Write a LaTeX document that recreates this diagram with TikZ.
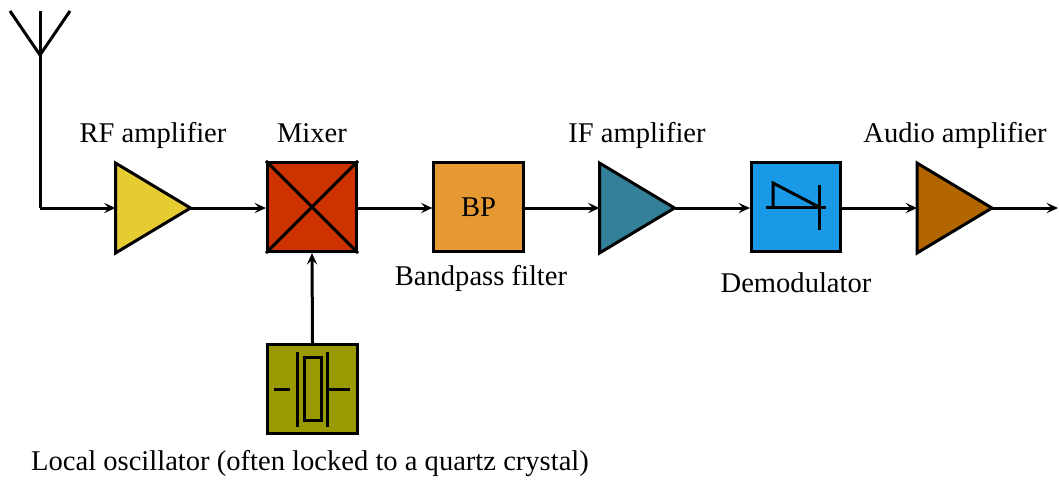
\documentclass[tikz,border=0pt]{standalone}
\usepackage{fontspec}
\setmainfont{Liberation Serif}
\newfontfamily\lblfont{Liberation Serif}
\usetikzlibrary{arrows.meta}
\definecolor{rfc}{RGB}{230,204,51}
\definecolor{mixc}{RGB}{204,51,0}
\definecolor{bpc}{RGB}{230,153,51}
\definecolor{ifc}{RGB}{51,128,153}
\definecolor{demc}{RGB}{26,153,230}
\definecolor{audc}{RGB}{179,102,0}
\definecolor{oscc}{RGB}{153,153,0}
\tikzset{
  wire/.style={line width=1.05pt},
  sig/.style={wire,-{Stealth[length=4pt,width=3.6pt,inset=1.6pt]}},
  blockbox/.style={draw,line width=1.05pt,minimum width=31.2pt,minimum height=31.2pt,inner sep=0pt,font=\lblfont\fontsize{10}{12}\selectfont},
  ampbox/.style={minimum width=26.25pt,minimum height=31.5pt,inner sep=0pt,outer sep=0pt},
  amp/.style={draw,line width=1.05pt},
  lbl/.style={anchor=base,inner sep=0pt,font=\lblfont\fontsize{10}{12}\selectfont},
}
\begin{document}
\begin{tikzpicture}[x=0.35pt,y=-0.35pt]
\useasboundingbox (0,0) rectangle (1059,479);
% antenna
\coordinate (anttop) at (40,11);
\coordinate (antjunc) at (40,55);
\coordinate (antl) at (10,11);
\coordinate (antr) at (70,11);
\coordinate (antbase) at (40,208);
\draw[wire] (antl) -- (antjunc) -- (antr);
\draw[wire] (anttop) -- (antbase);
% blocks
\node[ampbox] (rf) at (153,208) {};
\filldraw[amp,fill=rfc] (rf.north west) -- (rf.east) -- (rf.south west) -- cycle;
\node[blockbox,fill=mixc] (mix) at (312,207) {};
\draw[wire] (mix.north west) -- (mix.south east);
\draw[wire] (mix.south west) -- (mix.north east);
\node[blockbox,fill=bpc] (bp) at (478.5,207) {BP};
\node[ampbox] (if) at (637,208) {};
\filldraw[amp,fill=ifc] (if.north west) -- (if.east) -- (if.south west) -- cycle;
\node[blockbox,fill=demc] (dem) at (796,207) {};
\node[ampbox] (aud) at (954.5,208) {};
\filldraw[amp,fill=audc] (aud.north west) -- (aud.east) -- (aud.south west) -- cycle;
\node[blockbox,fill=oscc] (osc) at (312.5,389) {};
\coordinate (out) at (1058,208);
% demodulator symbol
\draw[wire] (766,207) -- (826,207);
\draw[wire] (819,185) -- (819,230);
\draw[wire] (773,207) -- (773,183) -- (819,207);
% crystal symbol
\draw[wire] (274,389) -- (290,389);
\draw[wire] (297,352) -- (297,427);
\draw[wire] (304,357) rectangle (321,420);
\draw[wire] (327,352) -- (327,427);
\draw[wire] (327,389) -- (350,389);
% connectors
\draw[sig] (antbase) -- (rf.west);
\draw[sig] (rf.east) -- (mix.west |- rf.east);
\draw[sig] (mix.east |- rf.east) -- (bp.west |- rf.east);
\draw[sig] (bp.east |- rf.east) -- (if.west);
\draw[sig] (if.east) -- (dem.west |- if.east);
\draw[sig] (dem.east |- if.east) -- (aud.west);
\draw[sig] (aud.east) -- (out);
\draw[sig] (osc.north) -- (mix.south);
% labels
\node[lbl] (lrf) at (153,142) {RF amplifier};
\node[lbl] (lmix) at (312,142) {Mixer};
\node[lbl] (lbp) at (481,285) {Bandpass filter};
\node[lbl] (lif) at (637,142) {IF amplifier};
\node[lbl] (ldem) at (796,292) {Demodulator};
\node[lbl] (laud) at (955,142) {Audio amplifier};
\node[lbl] (losc) at (310,470) {Local oscillator (often locked to a quartz crystal)};
\end{tikzpicture}
\end{document}
